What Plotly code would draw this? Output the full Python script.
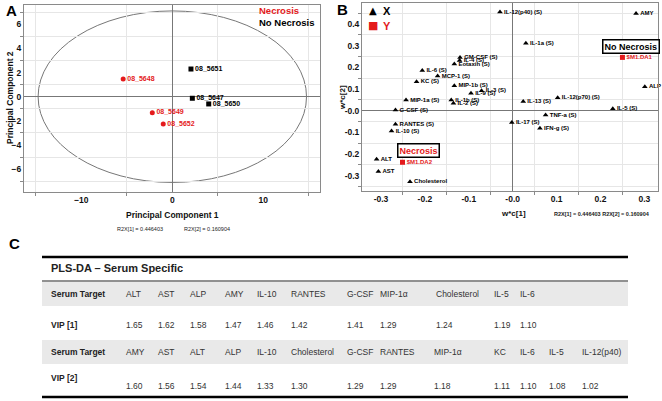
import plotly.graph_objects as go

W, H = 662, 401
FONT = "Liberation Sans, Arial, sans-serif"
RED = "#e41a1c"

# ---------------- Panel A data (PCA scores) ----------------
sample_ids = ["08_5648", "08_5649", "08_5652", "08_5651", "08_5647", "08_5650"]
pc1 = [-5.4, -2.2, -1.0, 2.05, 2.2, 4.0]
pc2 = [1.47, -1.32, -2.26, 2.29, -0.13, -0.6]
group = ["Necrosis", "Necrosis", "Necrosis", "No Necrosis", "No Necrosis", "No Necrosis"]
ellipse_a = 14.75   # Hotelling T2 ellipse semi-axis, PC1
ellipse_b = 7.1     # Hotelling T2 ellipse semi-axis, PC2
r2x_text = ["R2X[1] = 0.446403", "R2X[2] = 0.160904"]

# ---------------- Panel B data (PLS-DA loadings) ----------------
x_vars = ["IL-12(p40) (S)", "AMY", "IL-1a (S)", "ALP", "IL-5 (S)", "GM-CSF (S)", "IL-4 (S)",
          "Eotaxin (S)", "IL-6 (S)", "MCP-1 (S)", "KC (S)", "MIP-1b (S)", "IL-9 (S)", "IL-3 (S)",
          "IL-1b (S)", "IL-2 (S)", "MIP-1a (S)", "G-CSF (S)", "RANTES (S)", "IL-10 (S)",
          "ALT", "AST", "Cholesterol", "IL-13 (S)", "IL-12(p70) (S)", "TNF-a (S)", "IL-17 (S)",
          "IFN-g (S)"]
x_wc1 = [-0.029, 0.281, 0.030, 0.301, 0.228, -0.120, -0.121,
         -0.133, -0.206, -0.171, -0.219, -0.133, -0.095, -0.071,
         -0.140, -0.135, -0.243, -0.267, -0.267, -0.276,
         -0.310, -0.306, -0.234, 0.024, 0.1025, 0.075, -0.002,
         0.062]
x_wc2 = [0.455, 0.449, 0.311, 0.111, 0.009, 0.246, 0.232,
         0.215, 0.185, 0.160, 0.134, 0.115, 0.080, 0.092,
         0.049, 0.034, 0.049, 0.003, -0.063, -0.094,
         -0.224, -0.281, -0.328, 0.042, 0.060, -0.020, -0.054,
         -0.081]
y_vars = ["$M1.DA1", "$M1.DA2"]
y_wc1 = [0.250, -0.251]
y_wc2 = [0.246, -0.238]
y_class = ["No Necrosis", "Necrosis"]
y_class_pos_x = [0.270, -0.2157]
y_class_pos_y = [0.296, -0.1846]
b_xticks = [-0.3, -0.2, -0.1, 0.0, 0.1, 0.2, 0.3]
b_xticklabels = ["-0.3", "-0.2", "-0.1", "-0.0", "0.1", "0.2", "0.3"]
b_yticks = [-0.3, -0.2, -0.1, 0.0, 0.1, 0.2, 0.3, 0.4]
b_yticklabels = ["-0.3", "-0.2", "-0.1", "-0.0", "0.1", "0.2", "0.3", "0.4"]

# ---------------- Panel C data (VIP table) ----------------
table_title = "PLS-DA \u2013 Serum Specific"
targets_1 = ["ALT", "AST", "ALP", "AMY", "IL-10", "RANTES", "G-CSF", "MIP-1\u03b1",
             "Cholesterol", "IL-5", "IL-6"]
vip_1 = ["1.65", "1.62", "1.58", "1.47", "1.46", "1.42", "1.41", "1.29", "1.24", "1.19", "1.10"]
targets_2 = ["AMY", "AST", "ALT", "ALP", "IL-10", "Cholesterol", "G-CSF", "RANTES",
             "MIP-1\u03b1", "KC", "IL-6", "IL-5", "IL-12(p40)"]
vip_2 = ["1.60", "1.56", "1.54", "1.44", "1.33", "1.30", "1.29", "1.29", "1.18",
         "1.11", "1.10", "1.08", "1.02"]


def px(x):
    return x / W


def py(y):
    return 1 - y / H


fig = go.Figure()

# ---- Panel A traces ----
col_a = [RED if g == "Necrosis" else "black" for g in group]
sym_a = ["circle" if g == "Necrosis" else "square" for g in group]
fig.add_trace(go.Scatter(
    x=pc1, y=pc2, mode="markers+text", text=sample_ids, textposition="middle right",
    marker=dict(color=col_a, symbol=sym_a, size=5),
    textfont=dict(color=col_a, size=7, family=FONT, weight="bold"),
    xaxis="x", yaxis="y", showlegend=False, cliponaxis=False))

# ---- Panel B traces ----
fig.add_trace(go.Scatter(
    x=x_wc1, y=x_wc2, mode="markers+text", text=x_vars, textposition="middle right",
    marker=dict(color="black", symbol="triangle-up", size=5),
    textfont=dict(color="black", size=6, family=FONT, weight="bold"),
    xaxis="x2", yaxis="y2", showlegend=False, cliponaxis=False))
fig.add_trace(go.Scatter(
    x=y_wc1, y=y_wc2, mode="markers+text", text=y_vars, textposition="middle right",
    marker=dict(color=RED, symbol="square", size=5),
    textfont=dict(color=RED, size=6, family=FONT, weight="bold"),
    xaxis="x2", yaxis="y2", showlegend=False, cliponaxis=False))

ann = []


def note(x, y, text, size, color="black", family=FONT, xanchor="center", angle=0,
         xref="paper", yref="paper", **kw):
    if xref == "paper":
        x = px(x)
    if yref == "paper":
        y = py(y)
    d = dict(x=x, y=y, xref=xref, yref=yref, text=text, showarrow=False,
             xanchor=xanchor, yanchor="middle", textangle=angle,
             font=dict(size=size, family=family, color=color))
    d.update(kw)
    ann.append(d)


for name, xx, yy in zip(y_class, y_class_pos_x, y_class_pos_y):
    note(xx, yy, "<b>%s</b>" % name, 9, RED if name == "Necrosis" else "black",
         xref="x2", yref="y2", bordercolor="black", borderwidth=1.5, borderpad=1,
         bgcolor="white")

# Panel labels
for lab, x, y in [("A", 4, 10), ("B", 335, 9), ("C", 7, 244)]:
    note(x, y, "<b>%s</b>" % lab, 15, xanchor="left")

# Panel A legend text
note(257, 10, "<b>Necrosis</b>", 9.5, RED, xanchor="left")
note(257, 22, "<b>No Necrosis</b>", 9.5, "black", xanchor="left")

# Panel A axis titles
note(172, 215, "<b>Principal Component 1</b>", 8.5, "#111")
note(10, 98, "<b>Principal Component 2</b>", 8.5, "#111", angle=-90)
note(140, 229, r2x_text[0], 5.5, "#222")
note(207, 229, r2x_text[1], 5.5, "#222")

# Panel B legend
note(373, 11, "\u25b2", 10, "black", family="DejaVu Sans")
note(381, 11, "<b>X</b>", 11, "black", xanchor="left")
note(373, 26, "\u25a0", 11, RED, family="DejaVu Sans")
note(381, 26, "<b>Y</b>", 11, RED, xanchor="left")

# Panel B axis titles
note(513, 213, "<b>w*c[1]</b>", 8, "#111")
note(342, 98, "<b>w*c[2]</b>", 8, "#111", angle=-90)
note(602, 214, "<b>%s %s</b>" % (r2x_text[0], r2x_text[1]), 5.5, "#222")

# ---- shapes ----
shapes = [dict(type="circle", xref="x", yref="y", x0=-ellipse_a, x1=ellipse_a,
               y0=-ellipse_b, y1=ellipse_b, line=dict(color="#777", width=1), layer="below")]

TL, TR = 42, 628
for y0, y1 in [(282, 306), (340, 364)]:
    shapes.append(dict(type="rect", xref="paper", yref="paper", x0=px(TL), x1=px(TR),
                       y0=py(y1), y1=py(y0), fillcolor="#e9e9e9", line=dict(width=0),
                       layer="below"))
for yy, wdt, col in [(257, 2.5, "black"), (281, 1, "#222"), (397, 2.5, "black")]:
    shapes.append(dict(type="line", xref="paper", yref="paper", x0=px(TL), x1=px(TR),
                       y0=py(yy), y1=py(yy), line=dict(color=col, width=wdt)))

note(49, 268, "<b>%s</b>" % table_title, 11, "#222", xanchor="left")

col_x_1 = [124, 156, 188, 223, 255, 289, 345, 378, 434, 492, 518]
col_x_2 = [124, 156, 188, 223, 255, 289, 345, 378, 432, 492, 518, 547, 580]
row_y = {"t1": 294, "v1": 325, "t2": 352, "v2l": 378, "v2": 386}

note(49, row_y["t1"], "<b>Serum Target</b>", 8.5, "#222", xanchor="left")
note(49, row_y["v1"], "<b>VIP [1]</b>", 8.5, "#222", xanchor="left")
note(49, row_y["t2"], "<b>Serum Target</b>", 8.5, "#222", xanchor="left")
note(49, row_y["v2l"], "<b>VIP [2]</b>", 8.5, "#222", xanchor="left")
for xx, t, v in zip(col_x_1, targets_1, vip_1):
    note(xx, row_y["t1"], t, 8.5, "#333", xanchor="left")
    note(xx, row_y["v1"], v, 8.5, "#333", xanchor="left")
for xx, t, v in zip(col_x_2, targets_2, vip_2):
    note(xx, row_y["t2"], t, 8.5, "#333", xanchor="left")
    note(xx, row_y["v2"], v, 8.5, "#333", xanchor="left")

GRID = "#e6e6e6"
LINE = "#8a8a8a"
tickfont = dict(size=8.5, family=FONT, color="#111", weight="bold")
common = dict(showgrid=False, zeroline=True, zerolinecolor="#777", zerolinewidth=1,
              showline=True, mirror=True, linecolor=LINE, linewidth=1, ticks="",
              tickfont=tickfont, fixedrange=True, automargin=False)

fig.update_layout(
    template="none",
    width=W, height=H, autosize=False,
    margin=dict(l=0, r=0, t=0, b=0, pad=0),
    paper_bgcolor="white", plot_bgcolor="white",
    hovermode=False,
    xaxis=dict(domain=[px(24), px(320)], range=[-16.3, 16.23], anchor="y",
               tickmode="linear", tick0=0, dtick=10,
               minor=dict(tick0=5, dtick=10, showgrid=True, gridcolor=GRID,
                          ticks="outside", ticklen=3, tickcolor=LINE), **common),
    yaxis=dict(domain=[py(192), py(5)], range=[-7.89, 7.59], anchor="x",
               tickmode="linear", tick0=0, dtick=2,
               minor=dict(tick0=1, dtick=2, showgrid=True, gridcolor=GRID,
                          ticks="outside", ticklen=3, tickcolor=LINE), **common),
    xaxis2=dict(domain=[px(362), px(658)], range=[-0.3433, 0.331], anchor="y2",
                tickmode="array", tickvals=b_xticks, ticktext=b_xticklabels,
                minor=dict(tick0=0.05, dtick=0.1, showgrid=True, gridcolor=GRID,
                           ticks="outside", ticklen=3, tickcolor=LINE), **common),
    yaxis2=dict(domain=[py(191), py(3)], range=[-0.3706, 0.497], anchor="x2",
                tickmode="array", tickvals=b_yticks, ticktext=b_yticklabels,
                minor=dict(tick0=0.05, dtick=0.1, showgrid=True, gridcolor=GRID,
                           ticks="outside", ticklen=3, tickcolor=LINE), **common),
    annotations=ann,
    shapes=shapes,
)

fig.write_html(
    "out.html",
    config={"displayModeBar": False, "staticPlot": True},
    post_script="document.body.style.margin='0';document.body.style.overflow='hidden';",
)
